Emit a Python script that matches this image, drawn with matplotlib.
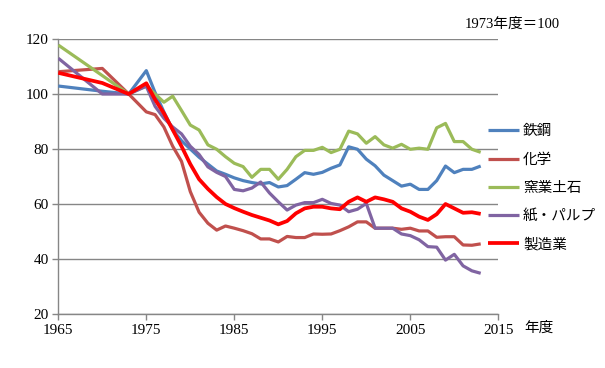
import matplotlib
matplotlib.use("Agg")
import matplotlib.pyplot as plt

plt.rcParams['font.family'] = ['Liberation Serif', 'Noto Sans CJK JP', 'DejaVu Sans']

years = [1965, 1970, 1973, 1975, 1976, 1977, 1978, 1979, 1980, 1981, 1982, 1983, 1984,
         1985, 1986, 1987, 1988, 1989, 1990, 1991, 1992, 1993, 1994, 1995, 1996, 1997,
         1998, 1999, 2000, 2001, 2002, 2003, 2004, 2005, 2006, 2007, 2008, 2009, 2010,
         2011, 2012, 2013]

steel = [102.9, 101.0, 100.0, 108.5, 100.5, 93.5, 87.0, 83.0, 80.0, 77.0, 74.5, 72.0, 70.8,
         69.5, 68.5, 67.8, 67.3, 67.8, 66.2, 66.7, 69.0, 71.4, 70.8, 71.5, 73.0, 74.2,
         80.8, 79.9, 76.3, 73.9, 70.5, 68.5, 66.5, 67.2, 65.3, 65.3, 68.5, 73.8, 71.4,
         72.6, 72.6, 73.8]

chemical = [108.1, 109.3, 100.0, 93.5, 92.5, 88.0, 81.0, 75.5, 64.5, 57.0, 53.0, 50.5, 52.0,
            51.2, 50.3, 49.2, 47.3, 47.3, 46.2, 48.2, 47.8, 47.8, 49.1, 49.0, 49.1, 50.3,
            51.7, 53.5, 53.5, 51.2, 51.2, 51.2, 50.8, 51.2, 50.2, 50.2, 47.9, 48.1, 48.1,
            45.1, 45.0, 45.5]

ceramics = [117.8, 106.7, 100.0, 103.0, 100.0, 97.0, 99.2, 94.0, 88.7, 86.9, 81.5, 79.9, 77.2,
            74.8, 73.6, 69.7, 72.6, 72.6, 69.0, 72.6, 77.2, 79.5, 79.5, 80.6, 78.7, 79.9,
            86.5, 85.5, 82.1, 84.5, 81.5, 80.3, 81.7, 79.9, 80.3, 79.9, 87.7, 89.3, 82.7,
            82.7, 79.9, 78.8]

paper = [113.0, 100.0, 100.0, 102.8, 95.5, 91.2, 88.0, 85.5, 81.0, 78.0, 73.5, 71.5, 70.0,
         65.3, 64.8, 65.8, 68.0, 64.0, 60.8, 57.8, 59.6, 60.5, 60.5, 61.7, 60.2, 59.6,
         57.2, 58.1, 60.2, 51.2, 51.2, 51.2, 49.1, 48.5, 47.0, 44.5, 44.3, 39.6, 41.7,
         37.5, 35.7, 34.8]

manufacturing = [107.7, 104.0, 100.0, 103.9, 98.0, 93.0, 87.0, 81.0, 74.5, 69.0, 65.5, 62.5,
                 60.0, 58.5, 57.2, 56.0, 55.0, 54.0, 52.6, 53.8, 56.6, 58.4, 59.0, 59.0, 58.4,
                 58.1, 60.8, 62.4, 60.8, 62.4, 61.7, 60.8, 58.4, 57.2, 55.4, 54.2, 56.3, 60.0,
                 58.4, 56.8, 57.0, 56.4]

series_names = ['鉄鋼', '化学', '窯業土石', '紙・パルプ', '製造業']
series_values = [steel, chemical, ceramics, paper, manufacturing]
series_colors = ['#4F81BD', '#C0504D', '#9BBB59', '#8064A2', '#FF0000']
series_widths = [2.3, 2.3, 2.3, 2.3, 2.7]

x_ticks = [1965, 1975, 1985, 1995, 2005, 2015]
y_ticks = [20, 40, 60, 80, 100, 120]

fig = plt.figure(figsize=(6.05, 3.68), dpi=100)
ax = fig.add_axes([58.3 / 605, 1 - 314 / 368, (498.3 - 58.3) / 605, (314 - 39) / 368])

grid_color = '#868686'
for yv in y_ticks:
    ax.axhline(yv, color=grid_color, lw=1.0, zorder=1)

for name, vals, col, lw in zip(series_names, series_values, series_colors, series_widths):
    ax.plot(years, vals, color=col, lw=lw, label=name, zorder=3,
            solid_joinstyle='round', solid_capstyle='butt')

ax.set_xlim(1965, 2015)
ax.set_ylim(20, 120)
ax.set_xticks(x_ticks)
ax.set_yticks(y_ticks)
ax.tick_params(axis='both', direction='out', length=4, width=1, color=grid_color,
               labelsize=11, pad=3)
for s in ['top', 'right']:
    ax.spines[s].set_visible(False)
for s in ['left', 'bottom']:
    ax.spines[s].set_color(grid_color)
    ax.spines[s].set_linewidth(1.0)

fig.text(524 / 605, 1 - 328 / 368, '年度', fontsize=10.5,
         family=['Noto Sans CJK JP'], va='center', ha='left')
fig.text(465 / 605, 1 - 24 / 368, '1973年度＝100', fontsize=10.5, va='center', ha='left')

leg = fig.legend(loc='upper left', bbox_to_anchor=(488 / 605, 1 - 124.5 / 368),
                 frameon=False, prop={'family': ['Noto Sans CJK JP'], 'size': 10.5},
                 handlelength=2.1, handletextpad=0.3, labelspacing=0.97,
                 borderaxespad=0, borderpad=0)

fig.savefig('out.png', dpi=100)
